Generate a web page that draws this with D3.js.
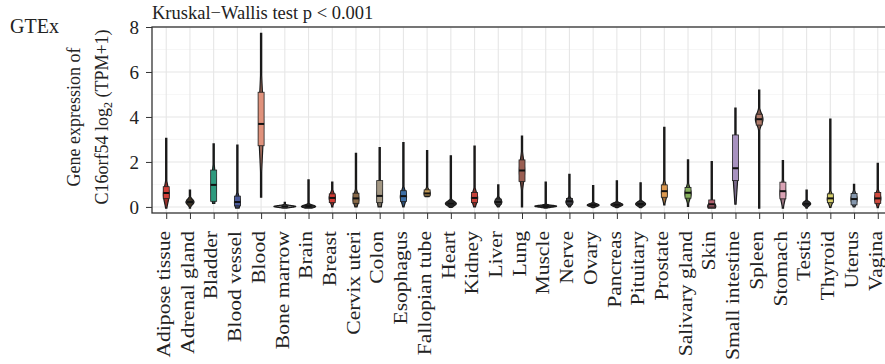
<!DOCTYPE html>
<html>
<head>
<meta charset="utf-8">
<script src="https://cdn.jsdelivr.net/npm/d3@7"></script>
<style>
  body { margin: 0; background: #fff; }
  text { font-family: "Liberation Serif", "DejaVu Serif", serif; fill: #222; }
</style>
</head>
<body>
<svg id="chart" width="885" height="364"></svg>
<script>
var tissues = ["Adipose tissue", "Adrenal gland", "Bladder", "Blood vessel", "Blood", "Bone marrow", "Brain",
  "Breast", "Cervix uteri", "Colon", "Esophagus", "Fallopian tube", "Heart", "Kidney", "Liver", "Lung",
  "Muscle", "Nerve", "Ovary", "Pancreas", "Pituitary", "Prostate", "Salivary gland", "Skin",
  "Small intestine", "Spleen", "Stomach", "Testis", "Thyroid", "Uterus", "Vagina"];

var colors = ["#d3413a", "#5e4a30", "#2e9a7e", "#4a5a9a", "#e0927c", "#a8a8a8", "#3a3a3a",
  "#d23a33", "#8a6a48", "#a39783", "#3d6fa6", "#c39a55", "#333333", "#c8423a", "#3c3c3c", "#9a5e52",
  "#333333", "#3c3c44", "#3a3232", "#3c3434", "#383838", "#de9a50", "#86b05c", "#b0606e",
  "#a892c0", "#b07a6a", "#d9a2b4", "#3a3a44", "#d6cf6a", "#8597ad", "#d24a3e"];

// violin extent
var vMin = [-0.05, -0.05, 0.16, -0.05, 0.43, -0.05, -0.05, 0, 0, 0, 0, 0.46, -0.02, 0, 0, 0,
  -0.05, 0, -0.03, -0.03, -0.03, 0.09, 0.02, -0.05, 0.12, -0.05, -0.05, -0.05, -0.02, 0, -0.03];
var vMax = [3.05, 0.75, 2.8, 2.75, 7.72, 0.2, 1.2, 1.1, 2.38, 2.64, 2.86, 2.5, 2.27, 2.71, 0.98, 3.15,
  1.1, 1.45, 0.95, 1.16, 1.07, 3.54, 2.09, 2.01, 4.39, 5.2, 2.06, 0.75, 3.9, 1.0, 1.94];
// box
var q1 = [0.38, 0.14, 0.25, 0.05, 2.72, 0, 0, 0.19, 0.16, 0.19, 0.24, 0.49, 0.08, 0.19, 0.12, 1.13,
  0, 0.12, 0.04, 0.05, 0.06, 0.43, 0.39, 0, 1.17, 3.64, 0.36, 0.08, 0.19, 0.09, 0.16];
var med = [0.62, 0.22, 0.98, 0.22, 3.69, 0.02, 0.03, 0.4, 0.38, 0.49, 0.48, 0.6, 0.15, 0.4, 0.22, 1.62,
  0.02, 0.25, 0.08, 0.1, 0.13, 0.7, 0.63, 0.12, 1.72, 3.9, 0.7, 0.14, 0.38, 0.35, 0.38];
var q3 = [0.9, 0.3, 1.64, 0.48, 5.1, 0.04, 0.08, 0.58, 0.61, 1.17, 0.72, 0.76, 0.25, 0.64, 0.35, 2.09,
  0.05, 0.38, 0.15, 0.18, 0.22, 0.98, 0.86, 0.31, 3.2, 4.12, 1.1, 0.22, 0.58, 0.6, 0.64];
// density shape: value of the widest point, relative width, spread
var peak = [0.55, 0.22, 0.9, 0.2, 3.7, 0.02, 0.02, 0.4, 0.35, 0.45, 0.45, 0.6, 0.15, 0.4, 0.22, 1.6,
  0.03, 0.22, 0.08, 0.1, 0.13, 0.65, 0.6, 0.03, 1.6, 3.9, 0.6, 0.14, 0.35, 0.35, 0.38];
var dens = [0.24, 0.34, 0.2, 0.24, 0.2, 0.92, 0.6, 0.26, 0.24, 0.22, 0.26, 0.26, 0.46, 0.26, 0.3, 0.22,
  0.92, 0.3, 0.5, 0.5, 0.42, 0.24, 0.26, 0.34, 0.2, 0.32, 0.24, 0.34, 0.26, 0.26, 0.26];
var spread = [0.35, 0.12, 0.6, 0.25, 1.3, 0.04, 0.06, 0.2, 0.25, 0.45, 0.25, 0.15, 0.1, 0.25, 0.13, 0.5,
  0.04, 0.13, 0.06, 0.07, 0.09, 0.3, 0.25, 0.15, 0.9, 0.25, 0.35, 0.09, 0.2, 0.22, 0.22];

var yTicks = [0, 2, 4, 6, 8];
var yMinor = [1, 3, 5, 7];

var svg = d3.select("#chart");

var margin = {top: 27, left: 152},
    plotRight = 892,
    plotBottom = 213;

var xScale = d3.scalePoint()
    .domain(tissues)
    .range([margin.left, plotRight])
    .padding(0.6);
var yScale = d3.scaleLinear()
    .domain([-0.27, 8])
    .range([plotBottom, margin.top]);

var step = xScale.step();

// grid
var grid = svg.append("g");
grid.selectAll("line.minor").data(yMinor).join("line")
    .attr("x1", margin.left).attr("x2", plotRight)
    .attr("y1", d => yScale(d)).attr("y2", d => yScale(d))
    .attr("stroke", "#f0f0f0").attr("stroke-width", 0.6);
grid.selectAll("line.major").data(yTicks).join("line")
    .attr("x1", margin.left).attr("x2", plotRight)
    .attr("y1", d => yScale(d)).attr("y2", d => yScale(d))
    .attr("stroke", "#e6e6e6").attr("stroke-width", 1.1);
grid.selectAll("line.vx").data(tissues).join("line")
    .attr("x1", d => xScale(d)).attr("x2", d => xScale(d))
    .attr("y1", margin.top).attr("y2", plotBottom)
    .attr("stroke", "#e6e6e6").attr("stroke-width", 1.1);

// violins
var rows = tissues.map((t, i) => ({
  name: t, color: colors[i], lo: vMin[i], hi: vMax[i],
  q1: q1[i], med: med[i], q3: q3[i], peak: peak[i], dens: dens[i], sd: spread[i]
}));

function outline(d) {
  var n = 160, pts = [];
  for (var k = 0; k <= n; k++) {
    var v = d.lo + (d.hi - d.lo) * k / n;
    var z = (v - d.peak) / d.sd;
    var hw = Math.max(0.6, d.dens * step / 2 * Math.exp(-0.5 * z * z));
    pts.push({v: v, hw: hw});
  }
  return pts;
}

var area = d3.area()
    .y(p => yScale(p.v))
    .curve(d3.curveBasis);

var vg = svg.append("g");
rows.forEach(function(d) {
  var cx = xScale(d.name);
  vg.append("path")
    .datum(outline(d))
    .attr("d", area.x0(p => cx - p.hw).x1(p => cx + p.hw))
    .attr("fill", d3.color(d.color).darker(0.9))
    .attr("stroke", "#1a1a1a")
    .attr("stroke-width", 1.2);
  vg.append("rect")
    .attr("x", cx - 3).attr("width", 6)
    .attr("y", yScale(d.q3))
    .attr("height", Math.max(1, yScale(d.q1) - yScale(d.q3)))
    .attr("fill", d.color)
    .attr("stroke", "#222")
    .attr("stroke-width", 0.8);
  vg.append("line")
    .attr("x1", cx - 3).attr("x2", cx + 3)
    .attr("y1", yScale(d.med)).attr("y2", yScale(d.med))
    .attr("stroke", "#111").attr("stroke-width", 2);
});

// panel border
svg.append("rect")
    .attr("x", margin.left).attr("y", margin.top)
    .attr("width", plotRight - margin.left).attr("height", plotBottom - margin.top)
    .attr("fill", "none").attr("stroke", "#333").attr("stroke-width", 1.3);

// axes
var gY = svg.append("g")
    .attr("transform", "translate(" + margin.left + ",0)")
    .call(d3.axisLeft(yScale).tickValues(yTicks).tickSize(6).tickPadding(7));
gY.select(".domain").remove();
gY.selectAll(".tick line").attr("stroke", "#333");
gY.selectAll(".tick text").attr("font-size", 19).attr("fill", "#222")
    .attr("font-family", "Liberation Serif, serif");

var gX = svg.append("g")
    .attr("transform", "translate(0," + plotBottom + ")")
    .call(d3.axisBottom(xScale).tickSize(6).tickPadding(10));
gX.select(".domain").remove();
gX.selectAll(".tick line").attr("stroke", "#333");
gX.selectAll(".tick text")
    .attr("font-size", 18)
    .attr("fill", "#222")
    .attr("font-family", "Liberation Serif, serif")
    .attr("text-anchor", "end")
    .attr("transform", "rotate(-90) scale(1.2,1)")
    .attr("x", -15).attr("y", 0).attr("dy", "0.18em");

// titles
svg.append("text")
    .attr("x", 152).attr("y", 19)
    .attr("font-size", 18.5)
    .text("Kruskal\u2212Wallis test p < 0.001");

svg.append("text")
    .attr("x", 10).attr("y", 33)
    .attr("font-size", 20)
    .text("GTEx");

var yt = svg.append("text")
    .attr("transform", "translate(80,117) rotate(-90)")
    .attr("text-anchor", "middle")
    .attr("font-size", 18);
yt.append("tspan").attr("x", 0).attr("y", 0).text("Gene expression of");
var l2 = yt.append("tspan").attr("x", 0).attr("y", 28);
l2.append("tspan").text("C16orf54 log");
l2.append("tspan").attr("font-size", 12).attr("dy", 4).text("2");
l2.append("tspan").attr("dy", -4).text(" (TPM+1)");
</script>
</body>
</html>
